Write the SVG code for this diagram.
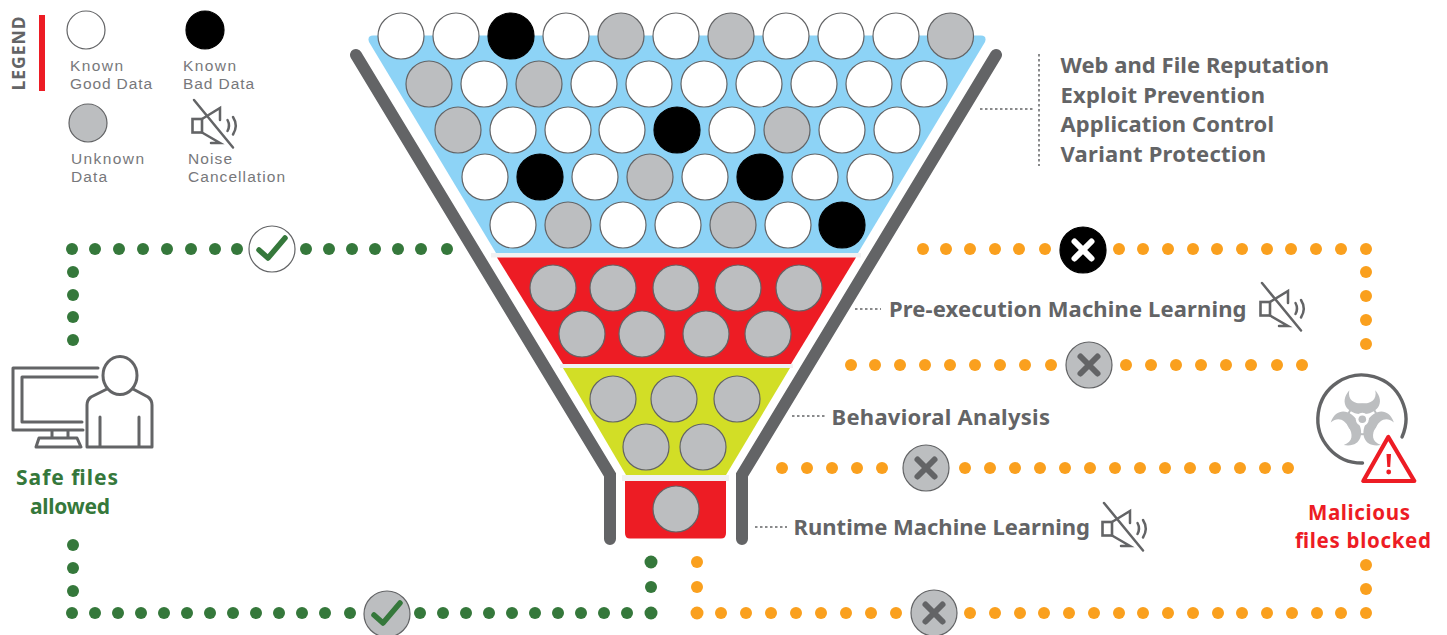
<svg xmlns="http://www.w3.org/2000/svg" xmlns:xlink="http://www.w3.org/1999/xlink" width="1447" height="635" viewBox="0 0 1447 635">
<style>
.w{fill:#fff;stroke:#636466;stroke-width:1.200}
.k{fill:#000;stroke:#000;stroke-width:1.200}
.u{fill:#bcbec0;stroke:#636466;stroke-width:1.200}
.g{fill:#35783b}
.o{fill:#faa01e}
.funnel{fill:none;stroke:#636466;stroke-width:12;stroke-linecap:round;stroke-linejoin:miter}
.lead{fill:none;stroke:#636466;stroke-width:1.500;stroke-dasharray:2.500 2.500}
.ic{fill:none;stroke:#636466;stroke-width:3;stroke-linejoin:round;stroke-linecap:round}
.b{font-family:"Noto Sans","Liberation Sans",sans-serif;font-weight:700;font-size:22px;fill:#636466}
.l{font-family:"Liberation Sans",sans-serif;font-weight:400;font-size:15.500px;fill:#77787b}
.gt{font-family:"Noto Sans","Liberation Sans",sans-serif;font-weight:700;font-size:21px;fill:#35783b;text-anchor:middle}
.rt{font-family:"Noto Sans","Liberation Sans",sans-serif;font-weight:700;font-size:20.500px;fill:#ed1c24;text-anchor:middle}
</style>
<defs>
<g id="spk" fill="none" stroke="#636466" stroke-linecap="round">
<rect x="192.500" y="119" width="9.500" height="13.500" stroke-width="2.600"/>
<path d="M202 119L220 108V120M202 132.500L220 143H211" stroke-width="2.500"/>
<path d="M194 100L233 147.500" stroke-width="2.500"/>
<path d="M227.500 120Q230.500 125.500 227.500 131M233 117Q238.500 125.500 233 134.500" stroke-width="2.500"/>
</g>
<g id="x"><path d="M-8.500 -8.500L8.500 8.500M8.500 -8.500L-8.500 8.500" fill="none" stroke-width="6" stroke-linecap="round"/></g>
<path id="chk" d="M-13 1L-4 9L13 -11" fill="none" stroke="#35783b" stroke-width="5.500" stroke-linecap="round" stroke-linejoin="round"/>
<path id="horn" d="M-13 -29C-24 -16 -14 -5 0 -5C14 -5 24 -16 13 -29C15 -19 8 -15.500 0 -15.500C-8 -15.500 -15 -19 -13 -29Z" fill="#bcbec0"/>
</defs>

<g id="legend">
<text class="b" transform="translate(25 90.500) rotate(-90)" style="font-size:17.500px" textLength="74" lengthAdjust="spacing">LEGEND</text>
<rect x="39" y="15" width="6" height="76" fill="#ed1c24"/>
<circle class="w" cx="86" cy="30" r="19"/>
<circle class="k" cx="205" cy="30" r="19"/>
<circle class="u" cx="88" cy="123" r="19"/>
<use xlink:href="#spk" href="#spk"/>
<text class="l" x="70" y="71" textLength="53">Known</text>
<text class="l" x="70" y="89" textLength="82">Good Data</text>
<text class="l" x="183" y="71" textLength="53">Known</text>
<text class="l" x="183" y="89" textLength="71">Bad Data</text>
<text class="l" x="71" y="164" textLength="73">Unknown</text>
<text class="l" x="71" y="182" textLength="36">Data</text>
<text class="l" x="188" y="164" textLength="44">Noise</text>
<text class="l" x="188" y="182" textLength="97">Cancellation</text>
</g>

<g id="funnel">
<path class="funnel" d="M356 55L610 475V539"/>
<path class="funnel" d="M996 55L742 475V539"/>
<path d="M373 35.500H981Q987 35.500 985 42L858 253H496L369 42Q367 35.500 373 35.500Z" fill="#8dd3f6"/>
<path d="M491 253H861V257.500H491ZM560 364H793V368H560ZM622 475H729V481H622Z" fill="#f1f1f2"/>
<path d="M497 257.500H856L791 364H563Z" fill="#ed1c24"/>
<path d="M563 368H790L726 475H626Z" fill="#d2de26"/>
<path d="M625 481H726V533Q726 538.500 721 538.500H630Q625 538.500 625 533Z" fill="#ed1c24"/>
</g>

<g id="data-tier-1">
<circle class="w" cx="401" cy="36" r="23"/><circle class="w" cx="456" cy="36" r="23"/><circle class="k" cx="511" cy="36" r="23"/><circle class="w" cx="566" cy="36" r="23"/><circle class="u" cx="621" cy="36" r="23"/><circle class="w" cx="676" cy="36" r="23"/><circle class="u" cx="731" cy="36" r="23"/><circle class="w" cx="786" cy="36" r="23"/><circle class="w" cx="841" cy="36" r="23"/><circle class="w" cx="896" cy="36" r="23"/><circle class="u" cx="950.500" cy="36" r="23"/>
<circle class="u" cx="429" cy="84" r="23"/><circle class="w" cx="484" cy="84" r="23"/><circle class="u" cx="539" cy="84" r="23"/><circle class="w" cx="594" cy="84" r="23"/><circle class="w" cx="649" cy="84" r="23"/><circle class="w" cx="704" cy="84" r="23"/><circle class="w" cx="759" cy="84" r="23"/><circle class="w" cx="814" cy="84" r="23"/><circle class="w" cx="869" cy="84" r="23"/><circle class="w" cx="924" cy="84" r="23"/>
<circle class="u" cx="458" cy="130" r="23"/><circle class="w" cx="513" cy="130" r="23"/><circle class="w" cx="568" cy="130" r="23"/><circle class="w" cx="622" cy="130" r="23"/><circle class="k" cx="677" cy="130" r="23"/><circle class="w" cx="732" cy="130" r="23"/><circle class="u" cx="787" cy="130" r="23"/><circle class="w" cx="842" cy="130" r="23"/><circle class="w" cx="897" cy="130" r="23"/>
<circle class="w" cx="485" cy="177" r="23"/><circle class="k" cx="540" cy="177" r="23"/><circle class="w" cx="595" cy="177" r="23"/><circle class="u" cx="650" cy="177" r="23"/><circle class="w" cx="705" cy="177" r="23"/><circle class="k" cx="760" cy="177" r="23"/><circle class="w" cx="815" cy="177" r="23"/><circle class="w" cx="870" cy="177" r="23"/>
<circle class="w" cx="513" cy="225" r="23"/><circle class="u" cx="568" cy="225" r="23"/><circle class="w" cx="623" cy="225" r="23"/><circle class="w" cx="678" cy="225" r="23"/><circle class="u" cx="733" cy="225" r="23"/><circle class="w" cx="788" cy="225" r="23"/><circle class="k" cx="842" cy="225" r="23"/>
</g>
<g id="data-tier-2">
<circle class="u" cx="553" cy="288" r="23"/><circle class="u" cx="613" cy="288" r="23"/><circle class="u" cx="676" cy="288" r="23"/><circle class="u" cx="738" cy="288" r="23"/><circle class="u" cx="799" cy="288" r="23"/>
<circle class="u" cx="582" cy="334" r="23"/><circle class="u" cx="642" cy="334" r="23"/><circle class="u" cx="706" cy="334" r="23"/><circle class="u" cx="768" cy="334" r="23"/>
</g>
<g id="data-tier-3">
<circle class="u" cx="613" cy="399" r="23"/><circle class="u" cx="674" cy="399" r="23"/><circle class="u" cx="737" cy="399" r="23"/>
<circle class="u" cx="646" cy="447" r="23"/><circle class="u" cx="703" cy="447" r="23"/>
</g>
<g id="data-tier-4"><circle class="u" cx="676" cy="509" r="23"/></g>

<g id="connectors">
<g class="g">
<circle cx="72" cy="249" r="6"/><circle cx="95" cy="249" r="6"/><circle cx="119" cy="249" r="6"/><circle cx="143" cy="249" r="6"/><circle cx="167" cy="249" r="6"/><circle cx="191" cy="249" r="6"/><circle cx="215" cy="249" r="6"/><circle cx="237" cy="249" r="6"/>
<circle cx="306" cy="249" r="6"/><circle cx="329" cy="249" r="6"/><circle cx="352" cy="249" r="6"/><circle cx="375" cy="249" r="6"/><circle cx="398" cy="249" r="6"/><circle cx="421" cy="249" r="6"/><circle cx="447" cy="249" r="6"/>
<circle cx="73" cy="272" r="6"/><circle cx="73" cy="295" r="6"/><circle cx="73" cy="317" r="6"/><circle cx="73" cy="340" r="6"/>
<circle cx="73" cy="545" r="6"/><circle cx="73" cy="568" r="6"/><circle cx="73" cy="591" r="6"/><circle cx="72" cy="613" r="6"/>
<circle cx="95" cy="613" r="6"/><circle cx="118" cy="613" r="6"/><circle cx="141" cy="613" r="6"/><circle cx="164" cy="613" r="6"/><circle cx="187" cy="613" r="6"/><circle cx="210" cy="613" r="6"/><circle cx="233" cy="613" r="6"/><circle cx="256" cy="613" r="6"/><circle cx="279" cy="613" r="6"/><circle cx="302" cy="613" r="6"/><circle cx="325" cy="613" r="6"/><circle cx="350" cy="613" r="6"/>
<circle cx="420" cy="613" r="6"/><circle cx="443" cy="613" r="6"/><circle cx="466" cy="613" r="6"/><circle cx="489" cy="613" r="6"/><circle cx="512" cy="613" r="6"/><circle cx="535" cy="613" r="6"/><circle cx="558" cy="613" r="6"/><circle cx="581" cy="613" r="6"/><circle cx="604" cy="613" r="6"/><circle cx="627" cy="613" r="6"/><circle cx="651" cy="613" r="6.500"/>
<circle cx="651" cy="562" r="6.500"/><circle cx="651" cy="587" r="6"/>
</g>
<g class="o">
<circle cx="923" cy="249" r="6"/><circle cx="946" cy="249" r="6"/><circle cx="970" cy="249" r="6"/><circle cx="995" cy="249" r="6"/><circle cx="1019" cy="249" r="6"/><circle cx="1045" cy="249" r="6"/>
<circle cx="1119" cy="249" r="6"/><circle cx="1143" cy="249" r="6"/><circle cx="1168" cy="249" r="6"/><circle cx="1193" cy="249" r="6"/><circle cx="1217" cy="249" r="6"/><circle cx="1242" cy="249" r="6"/><circle cx="1267" cy="249" r="6"/><circle cx="1291" cy="249" r="6"/><circle cx="1316" cy="249" r="6"/><circle cx="1341" cy="249" r="6"/><circle cx="1366" cy="249" r="6"/>
<circle cx="1366" cy="272" r="6"/><circle cx="1366" cy="296" r="6"/><circle cx="1366" cy="320" r="6"/><circle cx="1366" cy="344" r="6"/>
<circle cx="851" cy="365" r="6"/><circle cx="875" cy="365" r="6"/><circle cx="900" cy="365" r="6"/><circle cx="925" cy="365" r="6"/><circle cx="950" cy="365" r="6"/><circle cx="975" cy="365" r="6"/><circle cx="1000" cy="365" r="6"/><circle cx="1025" cy="365" r="6"/><circle cx="1051" cy="365" r="6"/>
<circle cx="1126" cy="365" r="6"/><circle cx="1151" cy="365" r="6"/><circle cx="1176" cy="365" r="6"/><circle cx="1201" cy="365" r="6"/><circle cx="1226" cy="365" r="6"/><circle cx="1251" cy="365" r="6"/><circle cx="1277" cy="365" r="6"/><circle cx="1302" cy="365" r="6"/>
<circle cx="782" cy="468" r="6"/><circle cx="807" cy="468" r="6"/><circle cx="832" cy="468" r="6"/><circle cx="857" cy="468" r="6"/><circle cx="882" cy="468" r="6"/>
<circle cx="965" cy="468" r="6"/><circle cx="990" cy="468" r="6"/><circle cx="1015" cy="468" r="6"/><circle cx="1040" cy="468" r="6"/><circle cx="1065" cy="468" r="6"/><circle cx="1090" cy="468" r="6"/><circle cx="1115" cy="468" r="6"/><circle cx="1140" cy="468" r="6"/><circle cx="1165" cy="468" r="6"/><circle cx="1190" cy="468" r="6"/><circle cx="1215" cy="468" r="6"/><circle cx="1240" cy="468" r="6"/><circle cx="1265" cy="468" r="6"/><circle cx="1288" cy="468" r="6"/>
<circle cx="697" cy="562" r="6"/><circle cx="697" cy="587" r="6"/><circle cx="697" cy="613" r="6.500"/>
<circle cx="721" cy="613" r="6"/><circle cx="746" cy="613" r="6"/><circle cx="771" cy="613" r="6"/><circle cx="796" cy="613" r="6"/><circle cx="821" cy="613" r="6"/><circle cx="846" cy="613" r="6"/><circle cx="871" cy="613" r="6"/><circle cx="896" cy="613" r="6"/>
<circle cx="970" cy="613" r="6"/><circle cx="995" cy="613" r="6"/><circle cx="1020" cy="613" r="6"/><circle cx="1044" cy="613" r="6"/><circle cx="1069" cy="613" r="6"/><circle cx="1094" cy="613" r="6"/><circle cx="1119" cy="613" r="6"/><circle cx="1143" cy="613" r="6"/><circle cx="1168" cy="613" r="6"/><circle cx="1193" cy="613" r="6"/><circle cx="1218" cy="613" r="6"/><circle cx="1242" cy="613" r="6"/><circle cx="1267" cy="613" r="6"/><circle cx="1292" cy="613" r="6"/><circle cx="1317" cy="613" r="6"/><circle cx="1341" cy="613" r="6"/><circle cx="1366" cy="613" r="6"/>
<circle cx="1366" cy="565" r="6"/><circle cx="1366" cy="589" r="6"/>
</g>
<path class="lead" d="M980 109H1035M1039 54V166M855 309H881M792 416H826M755 527H787"/>
</g>

<g id="badge-safe-top"><circle class="w" cx="272" cy="249" r="23"/><use xlink:href="#chk" href="#chk" x="272" y="249"/></g>
<g id="badge-safe-bottom"><circle class="u" cx="387" cy="614" r="23"/><use xlink:href="#chk" href="#chk" x="387" y="614"/></g>
<g id="badge-block-1"><circle class="k" cx="1083" cy="250" r="23"/><use xlink:href="#x" href="#x" x="1083" y="250" stroke="#fff"/></g>
<g id="badge-block-2"><circle class="u" cx="1089" cy="365" r="23"/><use xlink:href="#x" href="#x" x="1089" y="365" stroke="#636466"/></g>
<g id="badge-block-3"><circle class="u" cx="926" cy="468" r="23"/><use xlink:href="#x" href="#x" x="926" y="468" stroke="#636466"/></g>
<g id="badge-block-4"><circle class="u" cx="934" cy="613" r="23"/><use xlink:href="#x" href="#x" x="934" y="613" stroke="#636466"/></g>

<g id="labels-tier-1">
<text class="b" x="1060.500" y="73" textLength="268.500">Web and File Reputation</text>
<text class="b" x="1060.500" y="103" textLength="204.500">Exploit Prevention</text>
<text class="b" x="1060.500" y="132" textLength="213.500">Application Control</text>
<text class="b" x="1060.500" y="162" textLength="205.500">Variant Protection</text>
</g>
<g id="label-pre-exec">
<text class="b" x="889" y="317" textLength="357.500">Pre-execution Machine Learning</text>
<use xlink:href="#spk" href="#spk" x="1068" y="183"/>
</g>
<g id="label-behavioral"><text class="b" x="831.500" y="425" textLength="218.500">Behavioral Analysis</text></g>
<g id="label-runtime">
<text class="b" x="793.500" y="535" textLength="296.500">Runtime Machine Learning</text>
<use xlink:href="#spk" href="#spk" x="910" y="403"/>
</g>

<g id="node-user">
<ellipse class="ic" cx="120" cy="375.500" rx="17" ry="19"/>
<path class="ic" d="M107 389L91 397Q87 400 87 405V447H152V405Q152 400 148 397L133 389M100 417V447M139 417V447"/>
<path class="ic" d="M98 368H13V430H83M97 377H22V422H82M52 430V437M68 430V437M39 438H77L81 447H36Z"/>
<text class="gt" x="67" y="485" textLength="102">Safe files</text>
<text class="gt" x="70" y="514" textLength="80">allowed</text>
</g>

<g id="node-malicious">
<g transform="translate(1362.300 419.300)"><circle r="15" fill="none" stroke="#bcbec0" stroke-width="2"/><use xlink:href="#horn" href="#horn"/><use xlink:href="#horn" href="#horn" transform="rotate(120)"/><use xlink:href="#horn" href="#horn" transform="rotate(240)"/><circle r="6.500" fill="#fff"/><circle r="3.800" fill="#bcbec0"/></g>
<path d="M1362.500 463A44 44 0 1 1 1402 437" fill="none" stroke="#636466" stroke-width="3.400" stroke-linecap="round"/>
<path d="M1388.300 437L1363.300 481H1414.300Z" fill="#fff" stroke="#ed1c24" stroke-width="4.200" stroke-linejoin="round"/>
<path d="M1386.500 454H1391L1390.200 467H1387.300Z" fill="#ed1c24"/><circle cx="1388.700" cy="472" r="2.400" fill="#ed1c24"/>
<text class="rt" x="1359" y="520" textLength="102">Malicious</text>
<text class="rt" x="1363" y="548" textLength="136">files blocked</text>
</g>
</svg>
